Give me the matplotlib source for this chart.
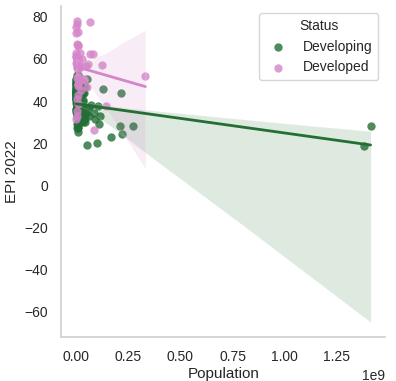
import matplotlib
matplotlib.use("Agg")
import matplotlib.pyplot as plt
import seaborn as sns
import numpy as np
import pandas as pd

# population in millions, EPI 2022 score
developing_pop = [1412, 1380, 273, 221, 211, 214, 165, 127, 117, 110, 104, 98, 54,
                  92, 86, 70, 62, 60, 54, 51, 45, 44, 45, 46, 41, 40, 37, 35, 35,
                  33, 33, 33, 31, 32, 29, 28, 28, 27, 27, 25, 22, 21, 21, 19, 19,
                  19, 18, 17, 13, 12, 12, 10, 19.5, 17.8, 17.1, 16.6, 17, 15, 13,
                  11.8, 11.9, 11.5, 10.3, 11, 10, 9.9, 9.7, 9.1, 8.5, 8.1, 7.3,
                  7.2, 6.9, 6.8, 6.7, 6.6, 6.5, 6.1, 5.7, 5.1, 5.1, 5.2, 4.7, 4.4,
                  4.3, 3.7, 3.3, 2.9, 2.8, 2.9, 2.5, 2.4, 2.5, 2.2, 2.2, 2.0, 1.7,
                  1.4, 1.3, 1.2, 0.9, 0.87, 0.79, 0.78, 0.7, 0.6, 0.56, 0.54, 0.44,
                  0.4, 0.4, 0.31, 0.29, 0.22, 0.2, 0.18, 0.12, 0.11, 0.11, 0.1,
                  0.1, 0.1, 0.07, 0.06]
developing_epi = [28.4, 18.9, 28.2, 24.6, 28.3, 43.6, 23.1, 45.5, 32.7, 28.9, 37.5, 20.1, 19.4,
                  31.7, 34.5, 38.1, 33.0, 37.2, 34.9, 50.3, 46.9, 32.1, 35.0, 34.2, 30.3, 43.6, 30.9, 39.7, 40.7,
                  44.0, 37.5, 33.0, 30.2, 36.4, 30.8, 43.5, 32.9, 33.8, 34.3, 32.5, 37.2, 33.5, 32.1, 32.1, 43.4,
                  33.5, 36.1, 30.1, 30.2, 35.4, 37.0, 41.1, 48.0, 51.1, 30.5, 32.6, 35.6, 38.3, 32.9,
                  43.3, 43.3, 29.6, 47.1, 43.1, 29.8, 52.4, 34.9, 27.3, 35.5, 27.8, 25.3,
                  43.1, 33.5, 42.7, 33.3, 38.2, 32.5, 38.8, 40.5, 52.5, 27.4, 38.9, 28.9, 49.8,
                  47.7, 36.5, 37.6, 50.8, 43.6, 40.9, 37.9, 43.4, 34.5, 44.3, 41.1, 41.6, 44.5,
                  43.6, 47.6, 40.6, 41.4, 35.8, 41.1, 45.0, 35.0, 46.0, 43.0, 39.0, 48.9,
                  45.5, 48.8, 42.1, 47.9, 44.7, 44.3, 46.6, 40.8, 43.3, 36.2, 43.0,
                  50.7, 50.2, 42.8, 45.0]

developed_pop = [332, 125, 144, 83, 67, 65, 59, 52, 47, 38, 38, 26, 17.5, 11.6, 10.7,
                 10.4, 10.2, 10.4, 9.7, 9.0, 9.3, 8.7, 6.9, 5.8, 5.5, 5.4, 5.4, 5.0,
                 5.1, 4.1, 2.8, 2.1, 1.9, 1.3, 1.2, 0.64, 0.52, 0.37, 19, 5.7, 85,
                 9.4, 6.9, 23.6, 3.0, 4.0, 7.0, 2.0, 9.0, 1.5]
developed_epi = [52.0, 57.2, 37.5, 62.4, 77.7, 62.5, 57.7, 46.9, 56.6, 50.6, 50.0, 60.1, 62.6, 58.2, 59.9,
                 56.2, 50.4, 72.7, 55.1, 66.5, 48.2, 65.9, 51.9, 77.9, 76.5, 60.0, 59.3, 57.4,
                 56.7, 60.2, 55.9, 67.3, 61.1, 61.4, 58.0, 72.3, 75.2, 62.8, 56.0, 50.9, 26.3,
                 48.3, 47.0, 45.3, 33.0, 35.5, 38.5, 41.0, 43.0, 31.5]

status_order = ["Developing", "Developed"]
status_colors = {"Developing": "#236e35", "Developed": "#d585c9"}
boot_seeds = {"Developing": 11, "Developed": 5}

df = pd.DataFrame({
    "Population": np.array(developing_pop + developed_pop) * 1e6,
    "EPI 2022": developing_epi + developed_epi,
    "Status": ["Developing"] * len(developing_pop) + ["Developed"] * len(developed_pop),
})

sns.set_theme(style="whitegrid")
plt.rcParams["font.family"] = ["Liberation Sans", "DejaVu Sans"]
plt.rcParams["axes.edgecolor"] = "#d0d0d0"

fig = plt.figure(figsize=(3.96, 3.81), dpi=100)
ax = fig.add_axes([0.155, 0.115, 0.818, 0.869])

for status in status_order:
    sub = df[df["Status"] == status]
    sns.regplot(data=sub, x="Population", y="EPI 2022", ax=ax,
                color=status_colors[status], label=status, seed=boot_seeds[status],
                scatter_kws={"s": 36, "alpha": 0.8, "linewidths": 0},
                line_kws={"linewidth": 2})

ax.grid(False)
sns.despine(ax=ax)
ax.tick_params(labelsize=10, colors="#262626")
ax.set_xlabel("Population", fontsize=11, labelpad=2)
ax.set_ylabel("EPI 2022", fontsize=11)
ax.xaxis.get_offset_text().set_fontsize(10)

ax.legend(loc="upper right", title="Status", fontsize=10, title_fontsize=10)

fig.savefig("out.png", dpi=100)
